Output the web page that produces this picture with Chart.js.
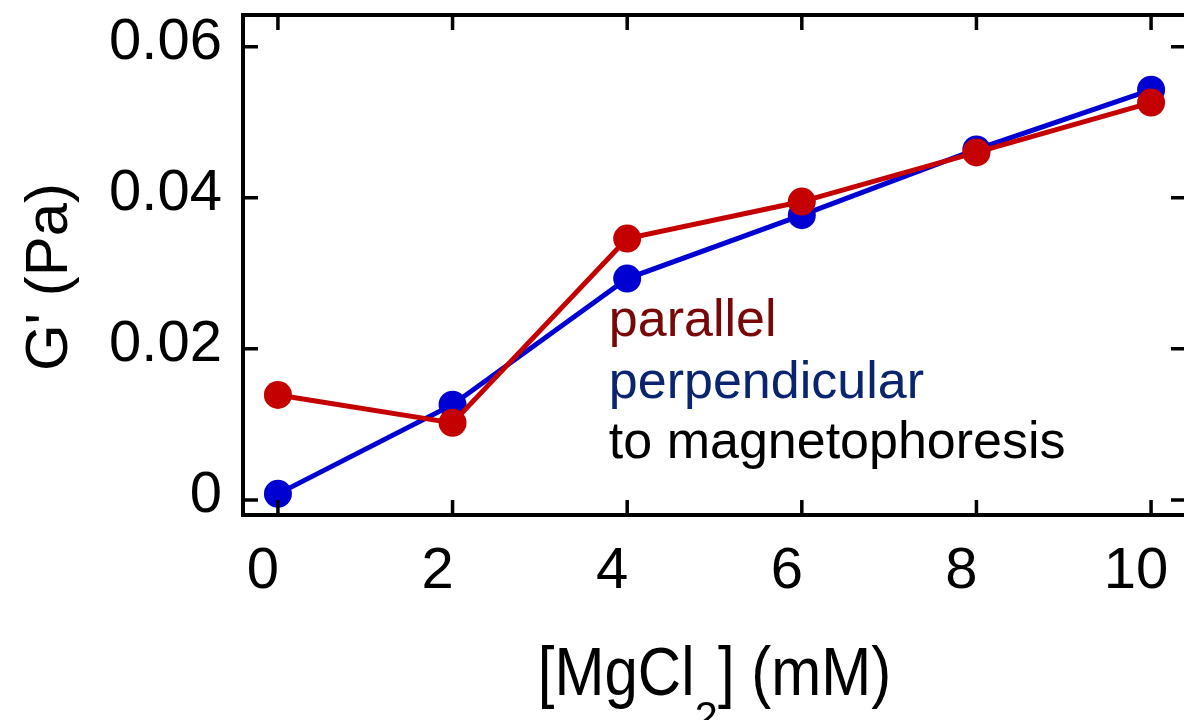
<!DOCTYPE html>
<html>
<head>
<meta charset="utf-8">
<script src="https://cdn.jsdelivr.net/npm/chart.js@4.4.1/dist/chart.umd.min.js"></script>
<style>
  html, body { margin: 0; padding: 0; background: #fff; overflow: hidden; }
  #wrap { position: absolute; left: 0; top: 0; width: 1200px; height: 720px; }
</style>
</head>
<body>
<div id="wrap"><canvas id="grafica" width="1200" height="720"></canvas></div>
<script>
// datos
const mgcl2 = [0, 2, 4, 6, 8, 10];
const paralelo = [0.0139, 0.0102, 0.0346, 0.0395, 0.0460, 0.0526];
const perpendicular = [0.0008, 0.0126, 0.0293, 0.0377, 0.0464, 0.0543];
const ticksX = [0, 2, 4, 6, 8, 10];
const ticksY = [0, 0.02, 0.04, 0.06];
const etiquetasY = ['0', '0.02', '0.04', '0.06'];

const fuente = "'Liberation Sans', Arial, sans-serif";
const rojo = '#c40000';
const azul = '#0000d2';

// marco, ticks hacia adentro, titulos con subindice y texto de la leyenda
const marcoPlugin = {
    id: 'marco',
    afterDraw(chart) {
        const ctx = chart.ctx;
        const a = chart.chartArea;
        const sx = chart.scales.x, sy = chart.scales.y;
        ctx.save();
        ctx.strokeStyle = '#000';
        ctx.lineWidth = 4;
        ctx.strokeRect(a.left, a.top, a.right - a.left, a.bottom - a.top);

        ctx.lineWidth = 3.5;
        const largo = 15;
        ticksX.forEach(v => {
            const px = sx.getPixelForValue(v);
            ctx.beginPath();
            ctx.moveTo(px, a.bottom); ctx.lineTo(px, a.bottom - largo);
            ctx.moveTo(px, a.top); ctx.lineTo(px, a.top + largo);
            ctx.stroke();
        });
        ticksY.forEach(v => {
            const py = sy.getPixelForValue(v);
            ctx.beginPath();
            ctx.moveTo(a.left, py); ctx.lineTo(a.left + largo, py);
            ctx.moveTo(a.right, py); ctx.lineTo(a.right - largo, py);
            ctx.stroke();
        });

        // titulo eje Y
        ctx.fillStyle = '#000';
        ctx.textBaseline = 'alphabetic';
        ctx.textAlign = 'center';
        ctx.font = '60px ' + fuente;
        ctx.save();
        ctx.translate(67, 277);
        ctx.rotate(-Math.PI / 2);
        ctx.fillText("G' (Pa)", 0, 0);
        ctx.restore();

        // titulo eje X: [MgCl2] (mM)
        ctx.textAlign = 'left';
        const f1 = '60px ' + fuente, f2 = '42px ' + fuente;
        ctx.font = f1;
        const w1 = ctx.measureText('[MgCl').width;
        const w3 = ctx.measureText('] (mM)').width;
        ctx.font = f2;
        const w2 = ctx.measureText('2').width;
        const total = w1 + w2 + w3;
        const x0 = (a.left + a.right) / 2 - total / 2;
        const base = 695;
        ctx.save();
        ctx.translate(0, base);
        ctx.scale(1, 1.15);
        ctx.font = f1;
        ctx.fillText('[MgCl', x0, 0);
        ctx.fillText('] (mM)', x0 + w1 + w2, 0);
        ctx.restore();
        ctx.font = f2;
        ctx.fillText('2', x0 + w1, base + 36);

        // texto de la leyenda
        ctx.font = '52px ' + fuente;
        const xt = sx.getPixelForValue(3.79);
        ctx.fillStyle = '#780808';
        ctx.fillText('parallel', xt, 336);
        ctx.fillStyle = '#0a2470';
        ctx.fillText('perpendicular', xt, 398);
        ctx.fillStyle = '#000';
        ctx.fillText('to magnetophoresis', xt, 458);
        ctx.restore();
    }
};

const ctx = document.getElementById('grafica').getContext('2d');
new Chart(ctx, {
    type: 'line',
    data: {
        labels: mgcl2,
        datasets: [
            {
                label: 'parallel',
                data: mgcl2.map((x, i) => ({ x, y: paralelo[i] })),
                borderColor: rojo,
                backgroundColor: rojo,
                pointBackgroundColor: rojo,
                pointBorderWidth: 0,
                pointRadius: 14,
                borderWidth: 5,
                tension: 0
            },
            {
                label: 'perpendicular',
                data: mgcl2.map((x, i) => ({ x, y: perpendicular[i] })),
                borderColor: azul,
                backgroundColor: azul,
                pointBackgroundColor: azul,
                pointBorderWidth: 0,
                pointRadius: 14,
                borderWidth: 5,
                tension: 0
            }
        ]
    },
    options: {
        responsive: false,
        animation: false,
        events: [],
        layout: { padding: { top: 15, right: 12, left: 0, bottom: 0 } },
        plugins: {
            legend: { display: false },
            tooltip: { enabled: false }
        },
        scales: {
            x: {
                type: 'linear',
                min: -0.4,
                max: 10.4,
                afterFit(scale) {
                    scale.height = 205;
                    scale.paddingLeft = 0; scale.paddingRight = 0;
                },
                afterBuildTicks(scale) { scale.ticks = ticksX.map(v => ({ value: v })); },
                grid: { display: false, drawTicks: false },
                border: { display: false },
                ticks: {
                    color: '#000',
                    font: { family: fuente, size: 58 },
                    padding: 22,
                    labelOffset: -15,
                    maxRotation: 0
                }
            },
            y: {
                min: -0.002,
                max: 0.0642,
                afterFit(scale) {
                    scale.width = 243;
                    scale.paddingTop = 0; scale.paddingBottom = 0;
                },
                afterBuildTicks(scale) { scale.ticks = ticksY.map(v => ({ value: v })); },
                grid: { display: false, drawTicks: false },
                border: { display: false },
                ticks: {
                    color: '#000',
                    font: { family: fuente, size: 58 },
                    padding: 21,
                    labelOffset: -4,
                    callback: (v) => etiquetasY[ticksY.indexOf(v)] ?? ''
                }
            }
        }
    },
    plugins: [marcoPlugin]
});
</script>
</body>
</html>
